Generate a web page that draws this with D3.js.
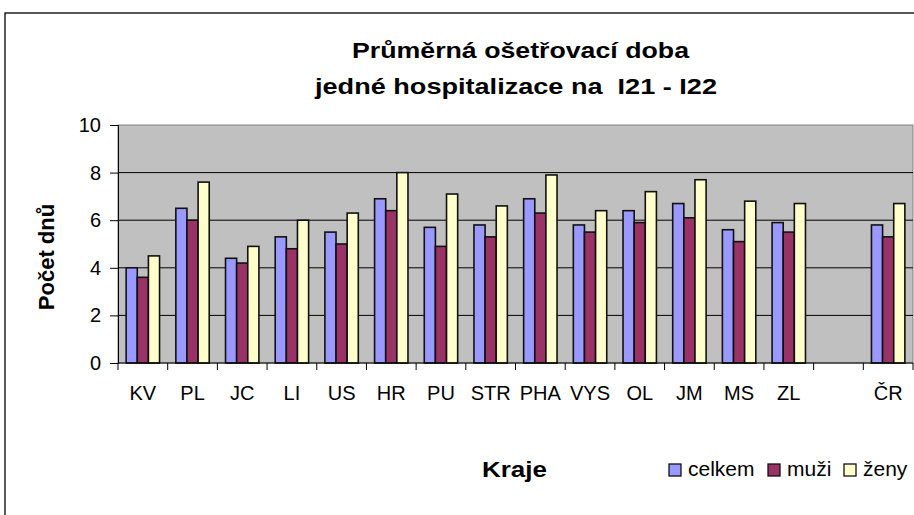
<!DOCTYPE html>
<html lang="cs">
<head>
    <meta charset="UTF-8">
    <title>Průměrná ošetřovací doba</title>
    <style>
        body { margin: 0; background: #fff; }
        svg { display: block; font-family: Arial, "Liberation Sans", sans-serif; }
        .tick-label { font-size: 20px; fill: #000; }
        .axis-title { font-size: 22px; font-weight: bold; }
        .legend-text { font-size: 21px; }
    </style>
</head>
<body>
    <svg id="chart" width="914" height="515"></svg>

    <script src="https://d3js.org/d3.v7.min.js"></script>
    <script>
        // Data
        const categories = ["KV", "PL", "JC", "LI", "US", "HR", "PU", "STR", "PHA", "VYS", "OL", "JM", "MS", "ZL", "", "ČR"];
        const celkem = [4.0, 6.5, 4.4, 5.3, 5.5, 6.9, 5.7, 5.8, 6.9, 5.8, 6.4, 6.7, 5.6, 5.9, null, 5.8];
        const muzi   = [3.6, 6.0, 4.2, 4.8, 5.0, 6.4, 4.9, 5.3, 6.3, 5.5, 5.9, 6.1, 5.1, 5.5, null, 5.3];
        const zeny   = [4.5, 7.6, 4.9, 6.0, 6.3, 8.0, 7.1, 6.6, 7.9, 6.4, 7.2, 7.7, 6.8, 6.7, null, 6.7];
        const seriesNames = ["celkem", "muži", "ženy"];
        const yTicks = [0, 2, 4, 6, 8, 10];

        const colors = ["#9999FF", "#993366", "#FFFFCC"];
        const series = [celkem, muzi, zeny];

        // plot area
        const plot = { left: 118, right: 913, top: 125, bottom: 363 };

        const svg = d3.select("#chart");

        // outer chart border (right/bottom run off the picture)
        svg.append("rect")
            .attr("x", 5).attr("y", 13)
            .attr("width", 930).attr("height", 530)
            .attr("fill", "none").attr("stroke", "#000").attr("stroke-width", 1.3);

        const x = d3.scaleBand()
            .domain(d3.range(categories.length))
            .range([plot.left, plot.right])
            .paddingInner(0).paddingOuter(0);

        const y = d3.scaleLinear().domain([0, 10]).range([plot.bottom, plot.top]);

        // three bars per group
        const barW = x.bandwidth() * 0.224;
        const groupOffset = (x.bandwidth() - barW * 3) / 2;

        // plot background
        svg.append("rect")
            .attr("x", plot.left).attr("y", plot.top)
            .attr("width", plot.right - plot.left).attr("height", plot.bottom - plot.top)
            .attr("fill", "#C0C0C0").attr("stroke", "#808080").attr("stroke-width", 1);

        // gridlines
        svg.append("g").selectAll("line")
            .data(yTicks.filter(d => d > 0 && d < 10))
            .join("line")
            .attr("x1", plot.left).attr("x2", plot.right)
            .attr("y1", d => y(d)).attr("y2", d => y(d))
            .attr("stroke", "#000").attr("stroke-width", 1);

        // bars
        series.forEach((vals, s) => {
            svg.append("g").selectAll("rect")
                .data(vals.map((v, i) => ({ v, i })).filter(d => d.v != null))
                .join("rect")
                .attr("x", d => x(d.i) + groupOffset + s * barW)
                .attr("y", d => y(d.v))
                .attr("width", barW)
                .attr("height", d => y(0) - y(d.v))
                .attr("fill", colors[s])
                .attr("stroke", "#111")
                .attr("stroke-width", 1.6);
        });

        // y axis
        const yAxis = svg.append("g")
            .attr("transform", "translate(" + plot.left + ",0)")
            .call(d3.axisLeft(y).tickValues(yTicks).tickSize(8).tickPadding(9));
        yAxis.select(".domain").attr("stroke", "#000");
        yAxis.selectAll(".tick line").attr("stroke", "#000");
        yAxis.selectAll(".tick text").attr("class", "tick-label").attr("font-family", null).attr("font-size", null);

        // x axis: line, ticks at category boundaries, labels at centres
        svg.append("line")
            .attr("x1", plot.left).attr("x2", plot.right)
            .attr("y1", plot.bottom).attr("y2", plot.bottom)
            .attr("stroke", "#000");
        svg.append("g").selectAll("line")
            .data(d3.range(categories.length + 1))
            .join("line")
            .attr("x1", i => plot.left + i * x.step()).attr("x2", i => plot.left + i * x.step())
            .attr("y1", plot.bottom).attr("y2", plot.bottom + 7)
            .attr("stroke", "#000");
        svg.append("g").selectAll("text")
            .data(categories)
            .join("text")
            .attr("class", "tick-label")
            .attr("x", (d, i) => x(i) + x.bandwidth() / 2)
            .attr("y", 400)
            .attr("text-anchor", "middle")
            .text(d => d);

        // title
        svg.append("text")
            .attr("class", "axis-title")
            .attr("x", 352).attr("y", 58)
            .attr("textLength", 337).attr("lengthAdjust", "spacingAndGlyphs")
            .text("Průměrná ošetřovací doba");
        svg.append("text")
            .attr("class", "axis-title")
            .attr("x", 315).attr("y", 94)
            .attr("textLength", 402).attr("lengthAdjust", "spacingAndGlyphs")
            .text("jedné hospitalizace na  I21 - I22")
            .style("white-space", "pre");

        // axis titles
        svg.append("text")
            .attr("class", "axis-title")
            .attr("font-size", "21px")
            .attr("transform", "translate(54,257) rotate(-90)")
            .attr("text-anchor", "middle")
            .text("Počet dnů");
        svg.append("text")
            .attr("class", "axis-title")
            .attr("x", 482).attr("y", 477)
            .attr("textLength", 65).attr("lengthAdjust", "spacingAndGlyphs")
            .text("Kraje");

        // legend
        const legendX = [669, 768, 844];
        seriesNames.forEach((name, s) => {
            svg.append("rect")
                .attr("x", legendX[s]).attr("y", 464)
                .attr("width", 12).attr("height", 12)
                .attr("fill", colors[s]).attr("stroke", "#111").attr("stroke-width", 1.3);
            svg.append("text")
                .attr("class", "legend-text")
                .attr("x", legendX[s] + 19).attr("y", 476)
                .text(name);
        });
    </script>
</body>
</html>
